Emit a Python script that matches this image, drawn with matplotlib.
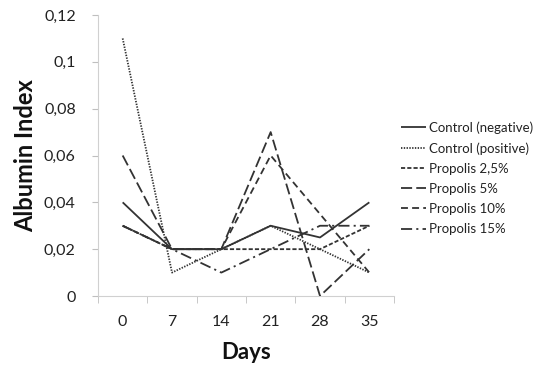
import matplotlib
matplotlib.use("Agg")
import matplotlib.pyplot as plt
import numpy as np

plt.rcParams['font.family'] = ['Lato', 'DejaVu Sans']
plt.rcParams['lines.scale_dashes'] = False

days = ["0", "7", "14", "21", "28", "35"]
ctrl_neg = [0.04, 0.02, 0.02, 0.03, 0.025, 0.04]
ctrl_pos = [0.11, 0.01, 0.02, 0.03, 0.02, 0.01]
prop_2_5 = [0.03, 0.02, 0.02, 0.02, 0.02, 0.03]
prop_5 = [0.06, 0.02, 0.02, 0.07, 0.0, 0.02]
prop_10 = [0.03, 0.02, 0.02, 0.06, 0.035, 0.01]
prop_15 = [0.03, 0.02, 0.01, 0.02, 0.03, 0.03]
yticks = [0, 0.02, 0.04, 0.06, 0.08, 0.1, 0.12]
ytick_labels = ["0", "0,02", "0,04", "0,06", "0,08", "0,1", "0,12"]

series = [
    ("Control (negative)", ctrl_neg, (0, ())),
    ("Control (positive)", ctrl_pos, (0, (1, 1))),
    ("Propolis 2,5%", prop_2_5, (0, (3, 1.5))),
    ("Propolis 5%", prop_5, (0, (8, 3))),
    ("Propolis 10%", prop_10, (0, (5, 3))),
    ("Propolis 15%", prop_15, (0, (8, 3, 1.5, 3))),
]

fig = plt.figure(figsize=(5.34, 3.65), dpi=100)
ax = fig.add_axes([98/534, 69/365, 296/534, 281/365])
x = np.arange(len(days))
color = "#333333"
for name, vals, ls in series:
    ax.plot(x, vals, color=color, linestyle=ls, linewidth=1.3, label=name)

ax.set_xlim(-0.5, len(days) - 0.5)
ax.set_ylim(0, 0.12)
ax.set_yticks(yticks)
ax.set_yticklabels(ytick_labels)
ax.set_xticks(x)
ax.set_xticklabels(days)
ax.set_xticks(np.arange(-0.5, len(days)), minor=True)
ax.tick_params(axis='x', which='major', length=0, pad=14, labelsize=11.5, labelcolor="#222222")
ax.tick_params(axis='x', which='minor', length=5, color="#bfbfbf", direction='out')
ax.tick_params(axis='y', length=4, color="#bfbfbf", labelsize=11.5, labelcolor="#222222", pad=12)
for s in ['top', 'right']:
    ax.spines[s].set_visible(False)
for s in ['left', 'bottom']:
    ax.spines[s].set_color("#d0d0d0")
    ax.spines[s].set_linewidth(0.8)

ax.set_xlabel("Days", fontsize=16, fontweight='bold', labelpad=9, color="#111111")
ax.set_ylabel("Albumin Index", fontsize=17, fontweight='bold', labelpad=5, color="#111111")

leg = ax.legend(loc='upper left', bbox_to_anchor=((396 - 98) / 296, (365 - 116 - 69) / 281),
                frameon=False, fontsize=9.5, handlelength=1.9, handletextpad=0.2,
                labelspacing=0.62, borderaxespad=0)
for t in leg.get_texts():
    t.set_color("#222222")

fig.savefig("out.png", dpi=100)
